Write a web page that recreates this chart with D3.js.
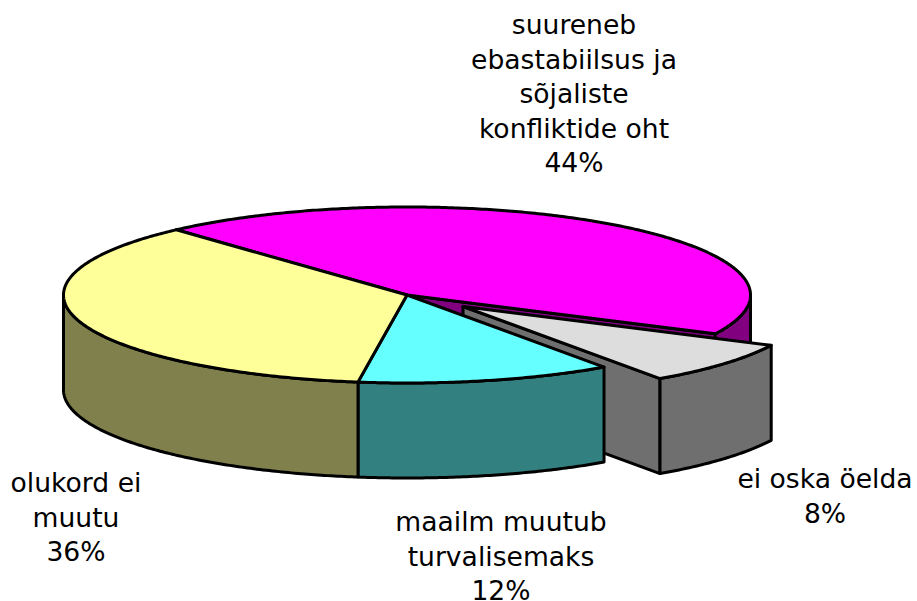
<!DOCTYPE html>
<html><head><meta charset="utf-8">
<script src="https://cdn.jsdelivr.net/npm/d3@7"></script>
<style>html,body{margin:0;padding:0;background:#fff}svg{display:block}text{font-family:"DejaVu Sans",Verdana,sans-serif;font-size:26.6px;fill:#000}</style>
</head><body><svg id="c" width="917" height="601"></svg>
<script>
const categories = ["suureneb ebastabiilsus ja sõjaliste konfliktide oht","ei oska öelda","maailm muutub turvalisemaks","olukord ei muutu"];
const values = [44,8,12,36];
const labelLines = [
  ["suureneb","ebastabiilsus ja","sõjaliste","konfliktide oht"],
  ["ei oska öelda"],
  ["maailm muutub","turvalisemaks"],
  ["olukord ei","muutu"]
];
const topColors = ["#FF00FF","#DDDDDD","#66FFFF","#FFFF99"];
const sideColors = ["#800080","#6F6F6F","#338080","#80804D"];
const exploded = [0,1,0,0];

const labelX = [574,825,501,76], labelY = [34,488,531,492], lineH = 34.5;
const cx=407, cy=295, rx=343.5, ry=88, depth=95;
const explodeOffset=[56,11.5];

const svg=d3.select("#c");
const pie=d3.pie().sort(null).startAngle(317.8*Math.PI/180).endAngle((317.8+360)*Math.PI/180);
const arcs=pie(values);
const X=d3.scaleLinear().domain([-1,1]).range([cx-rx,cx+rx]);
const Y=d3.scaleLinear().domain([-1,1]).range([cy-ry,cy+ry]);
const line=d3.line();
const rim=(a,b)=>{const n=Math.max(2,Math.ceil((b-a)/0.01));return d3.range(n+1).map(i=>{const t=a+(b-a)*i/n;return [X(Math.sin(t)),Y(-Math.cos(t))];});};
const P=Math.PI;
arcs.forEach((d,i)=>{
  const g=svg.append("g").attr("stroke","#000").attr("stroke-width",3).attr("stroke-linejoin","round")
    .attr("transform",exploded[i]?`translate(${explodeOffset})`:null);
  const c=[X(0),Y(0)], down=p=>[p[0],p[1]+depth];
  // end radial face
  if(Math.sin(d.endAngle)>0){
    const e=[X(Math.sin(d.endAngle)),Y(-Math.cos(d.endAngle))];
    g.append("path").attr("d",line([c,e,down(e),down(c)])+"Z").attr("fill",sideColors[i]);
  }
  // outer wall
  [[P/2,3*P/2],[5*P/2,7*P/2]].forEach(([lo,hi])=>{
    const a=Math.max(d.startAngle,lo),b=Math.min(d.endAngle,hi);
    if(b>a){const r=rim(a,b);
      g.append("path").attr("d",line(r.concat(r.slice().reverse().map(down)))+"Z").attr("fill",sideColors[i]);}
  });
  // top
  g.append("path").attr("d",line([c].concat(rim(d.startAngle,d.endAngle)))+"Z").attr("fill",topColors[i]);
});
labelLines.forEach((ls,i)=>{
  const t=svg.append("text").attr("text-anchor","middle");
  ls.concat([values[i]+"%"]).forEach((s,j)=>t.append("tspan").attr("x",labelX[i]).attr("y",labelY[i]+j*lineH).text(s));
});
</script></body></html>
